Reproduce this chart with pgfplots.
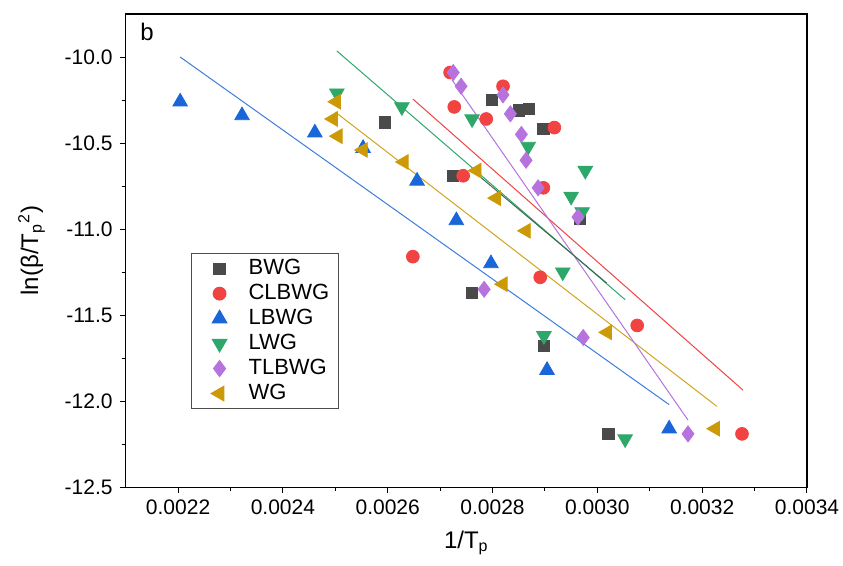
\documentclass[border=0pt]{standalone}
\usepackage{fontspec}
\setmainfont{Liberation Sans}
\usepackage{pgfplots}
\pgfplotsset{compat=1.18}
\definecolor{cbwg}{HTML}{4A4A4A}
\definecolor{cclb}{HTML}{F24343}
\definecolor{clb}{HTML}{1A66D8}
\definecolor{clw}{HTML}{2EA86A}
\definecolor{ctl}{HTML}{B673DD}
\definecolor{cwg}{HTML}{CC9A06}
\begin{document}
\begin{tikzpicture}
\begin{axis}[
  scale only axis,
  width=340.5pt, height=236.5pt,
  xmin=0.0021, xmax=0.0034, ymin=-12.5, ymax=-9.75,
  xtick={0.0022,0.0024,0.0026,0.0028,0.0030,0.0032,0.0034},
  ytick={-12.5,-12.0,-11.5,-11.0,-10.5,-10.0},
  minor x tick num=1, minor y tick num=1,
  tick align=outside, xtick pos=lower, ytick pos=left,
  major tick length=3pt, minor tick length=1.8pt,
  tick style={black, line width=0.5pt},
  axis line style={line width=0.7pt},
  scaled x ticks=false,
  xticklabel style={/pgf/number format/fixed, /pgf/number format/precision=4, /pgf/number format/fixed zerofill},
  yticklabel style={/pgf/number format/fixed, /pgf/number format/precision=1, /pgf/number format/fixed zerofill},
  /pgf/number format/assume math mode=true,
  ticklabel style={font=\fontsize{10.5}{12}\selectfont},
  xlabel={1/T\textsubscript{p}},
  ylabel={ln(β/T\textsubscript{p}\textsuperscript{2})},
  label style={font=\fontsize{12}{14}\selectfont},
  xlabel style={yshift=-1pt},
  ylabel style={yshift=3pt},
  clip=false,
  legend style={at={(rel axis cs:0.096,0.495)}, anchor=north west, draw=black!70, line width=0.5pt,
    font=\fontsize{11}{13}\selectfont, inner xsep=2.5pt, inner ysep=1pt, row sep=-0.7pt},
  legend cell align=left,
  legend image code/.code={\path[draw=none] (0pt,0pt) -- (24pt,0pt); \draw[#1] plot coordinates {(11.5pt,0pt)};},
]
\addplot[only marks, mark=square*, mark size=2.8pt, color=cbwg] coordinates {
(0.002595,-10.38) (0.002799,-10.247) (0.00285,-10.31) (0.00287,-10.30) (0.002897,-10.42)
(0.002725,-10.69) (0.002761,-11.37) (0.002898,-11.68) (0.003021,-12.19) (0.002967,-10.94)};
\addlegendentry{BWG}
\addplot[only marks, mark=*, mark size=3.2pt, color=cclb] coordinates {
(0.002719,-10.09) (0.00282,-10.17) (0.002727,-10.29) (0.002788,-10.36) (0.002918,-10.41)
(0.002744,-10.69) (0.002897,-10.76) (0.002648,-11.16) (0.002891,-11.28) (0.003076,-11.56) (0.003276,-12.19)};
\addlegendentry{CLBWG}
\addplot[only marks, mark=triangle*, mark size=4.2pt, color=clb] coordinates {
(0.002204,-10.26) (0.002322,-10.34) (0.002461,-10.44) (0.002553,-10.53) (0.002656,-10.72)
(0.002731,-10.95) (0.002797,-11.20) (0.002904,-11.82) (0.003137,-12.16)};
\addlegendentry{LBWG}
\addplot[only marks, mark=triangle*, mark size=4.2pt, color=clw, mark options={rotate=180}] coordinates {
(0.002503,-10.21) (0.002627,-10.29) (0.002761,-10.36) (0.002868,-10.52) (0.002977,-10.66)
(0.00295,-10.81) (0.002971,-10.90) (0.002934,-11.25) (0.002898,-11.62) (0.003053,-12.22)};
\addlegendentry{LWG}
\addplot[only marks, mark=diamond*, mark size=4pt, color=ctl] coordinates {
(0.002725,-10.09) (0.00274,-10.17) (0.00282,-10.22) (0.002834,-10.33) (0.002855,-10.45)
(0.002864,-10.60) (0.002887,-10.76) (0.002963,-10.93) (0.002784,-11.35) (0.002973,-11.63) (0.003173,-12.19)};
\addlegendentry{TLBWG}
\addplot[only marks, mark=triangle*, mark size=4.2pt, color=cwg, mark options={rotate=90}] coordinates {
(0.002502,-10.26) (0.002496,-10.36) (0.002505,-10.46) (0.002553,-10.54) (0.002631,-10.61)
(0.00277,-10.66) (0.002807,-10.82) (0.002864,-11.01) (0.00282,-11.32) (0.003019,-11.60) (0.003225,-12.16)};
\addlegendentry{WG}
\addplot[no marks, line width=0.5pt, color=clb!85!white, forget plot] coordinates {(0.002204,-10.0) (0.003137,-12.02)};
\addplot[no marks, line width=0.5pt, color=cwg!90!white, forget plot] coordinates {(0.0025,-10.32) (0.003228,-12.03)};
\addplot[no marks, line width=0.5pt, color=clw, forget plot] coordinates {(0.002503,-9.965) (0.003053,-11.41)};
\addplot[no marks, line width=0.5pt, color=cclb, forget plot] coordinates {(0.002648,-10.244) (0.003278,-11.936)};
\addplot[no marks, line width=0.5pt, color=ctl, forget plot] coordinates {(0.002723,-10.134) (0.003173,-12.11)};
\addplot[no marks, line width=0.5pt, color=cbwg!70!clw, forget plot] coordinates {(0.002761,-10.657) (0.003018,-11.314)};
\node[anchor=base west, inner sep=0pt, font=\fontsize{12}{14}\selectfont] at (rel axis cs:0.021,0.943) {b};
\end{axis}
\pgfresetboundingbox
\path ([xshift=-62.8pt, yshift=-39pt]current axis.south west) rectangle ([xshift=18pt, yshift=7pt]current axis.north east);
\end{tikzpicture}
\end{document}
